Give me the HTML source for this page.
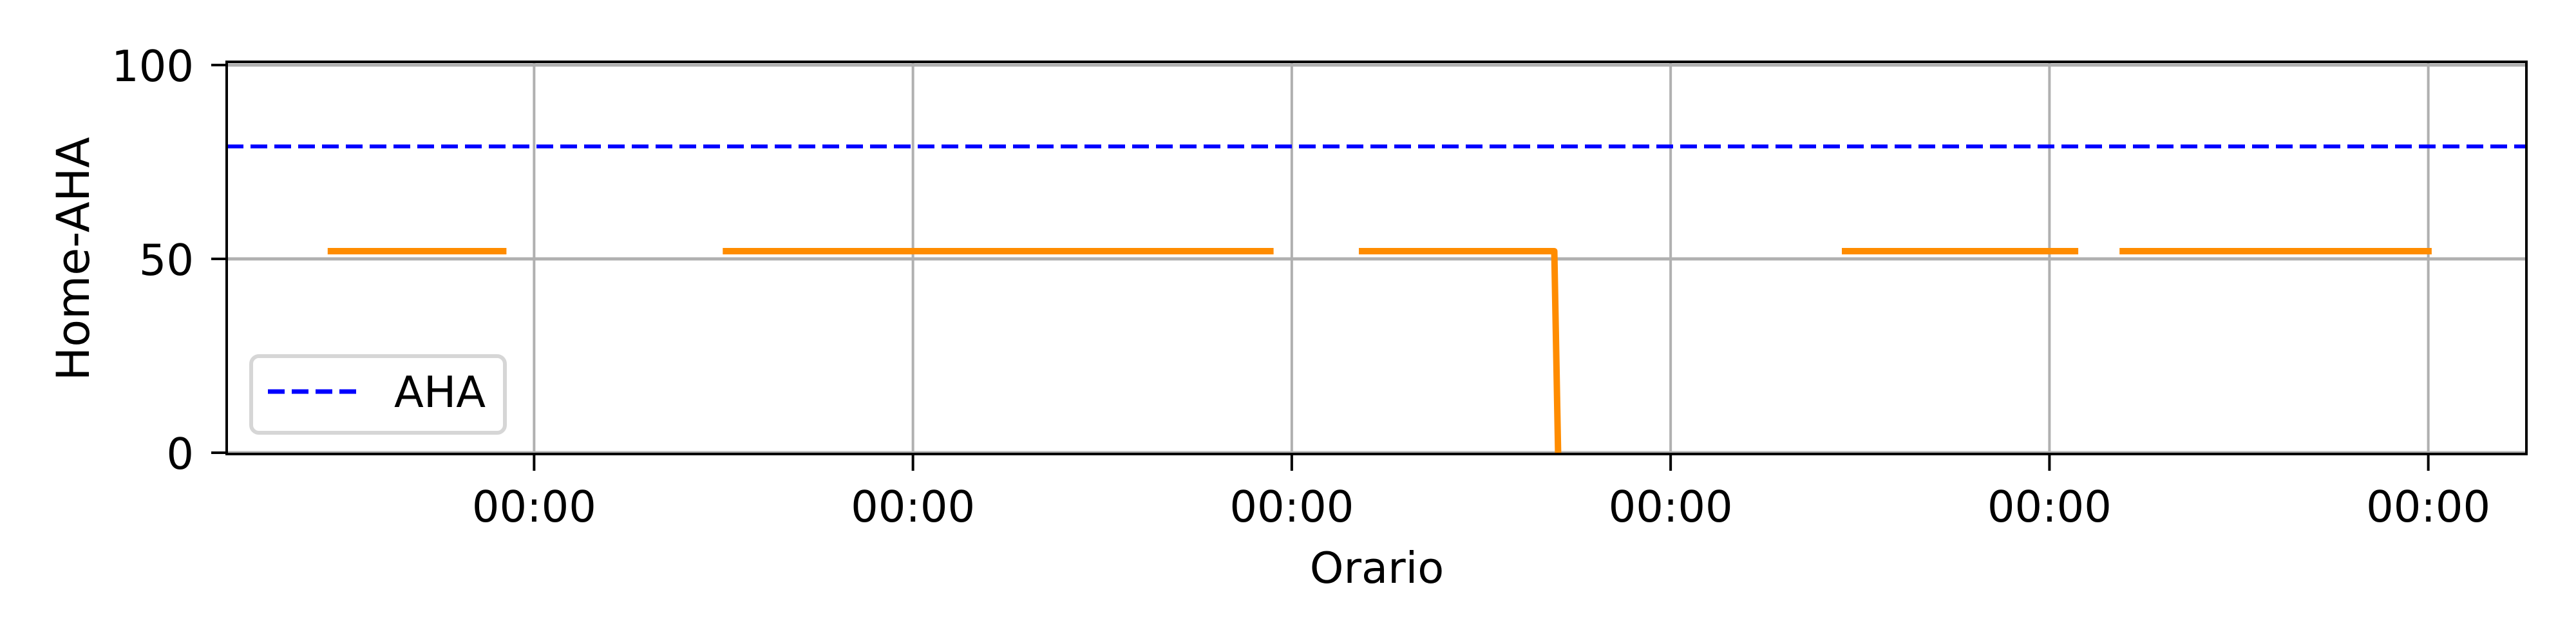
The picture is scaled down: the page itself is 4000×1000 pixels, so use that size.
<!DOCTYPE html>
<html><head><meta charset="utf-8"><style>
html,body{margin:0;padding:0;background:#fff;}
svg{display:block;font-family:"DejaVu Sans","Liberation Sans",sans-serif;}
</style></head><body>
<svg id="chart" width="4000" height="1000" viewBox="0 0 4000 1000" xmlns="http://www.w3.org/2000/svg">
<rect x="0" y="0" width="4000" height="1000" fill="#fff"/>
<g id="grid"></g>
<g id="series"></g>
<g id="axes"></g>
<g id="legend">
  <rect x="390" y="553" width="394" height="119" rx="12" fill="#fff" fill-opacity="0.8" stroke="#d6d6d6" stroke-width="6"/>
  <line x1="416" y1="608" x2="553" y2="608" stroke="#0000ff" stroke-width="7" stroke-dasharray="26 11"/>
  <text x="612" y="632" font-size="67" fill="#000">AHA</text>
</g>
<text x="2138" y="905" font-size="67" text-anchor="middle" fill="#000">Orario</text>
<text transform="translate(138,402) rotate(-90)" font-size="70" text-anchor="middle" fill="#000">Home-AHA</text>
</svg>
<script>
// data (x in days, tick 0 at first 00:00)
const xTicks = [0, 1, 2, 3, 4, 5];
const xTickLabels = ["00:00","00:00","00:00","00:00","00:00","00:00"];
const yTicks = [0, 50, 100];
const yTickLabels = ["0","50","100"];
const ahaValue = 79;
const seriesX = [-0.545, -0.073, null, 0.498, 1.952, null, 2.177, 2.693, 2.703, null, 3.452, 4.076, null, 4.185, 5.009];
const seriesY = [52, 52, null, 52, 52, null, 52, 52, 0, null, 52, 52, null, 52, 52];

const L=352, R=3923, T=96, B=705;
const xMin=-0.8115, xMax=5.259;
const X = v => L + (v - xMin) / (xMax - xMin) * (R - L);
const Y = v => 703 - v * 6.02;
const NS = "http://www.w3.org/2000/svg";
function mk(tag, attrs, parent){const e=document.createElementNS(NS,tag);for(const k in attrs)e.setAttribute(k,attrs[k]);parent.appendChild(e);return e;}
const grid=document.getElementById('grid'), series=document.getElementById('series'), axes=document.getElementById('axes');

xTicks.forEach((t,i)=>{
  const g=mk('line',{x1:X(t),y1:T,x2:X(t),y2:B,stroke:'#b0b0b0','stroke-width':4},grid);
  
  
  const tk=mk('line',{x1:X(t),y1:B,x2:X(t),y2:B+26,stroke:'#000','stroke-width':4},axes);
  
  
  const tl=mk('text',{x:X(t),y:810,'font-size':67,'text-anchor':'middle',fill:'#000'},axes);
  tl.textContent=xTickLabels[i];
  
  
});
yTicks.forEach((t,i)=>{
  const g=mk('line',{x1:L,y1:Y(t),x2:R,y2:Y(t),stroke:'#b0b0b0','stroke-width':5},grid);
  
  
  const tk=mk('line',{x1:L-24,y1:Y(t),x2:L,y2:Y(t),stroke:'#000','stroke-width':4},axes);
  
  
  const tl=mk('text',{x:301,y:Y(t)+25,'font-size':67,'text-anchor':'end',fill:'#000'},axes);
  tl.textContent=yTickLabels[i];
  
  
});
const aha=mk('line',{x1:L,y1:Y(ahaValue),x2:R,y2:Y(ahaValue),stroke:'#0000ff','stroke-width':6,'stroke-dasharray':'26 11'},series);



let d='', pen=false;
for(let i=0;i<seriesX.length;i++){
  if(seriesX[i]===null||seriesY[i]===null){pen=false;continue;}
  d+=(pen?'L':'M')+X(seriesX[i]).toFixed(1)+' '+Y(seriesY[i]).toFixed(1)+' ';
  pen=true;
}
const p=mk('path',{d:d,fill:'none',stroke:'#ff8c00','stroke-width':10,'stroke-linejoin':'round'},series);



const sp=mk('rect',{x:L,y:T,width:R-L,height:B-T,fill:'none',stroke:'#000','stroke-width':4},axes);


</script>
</body></html>
